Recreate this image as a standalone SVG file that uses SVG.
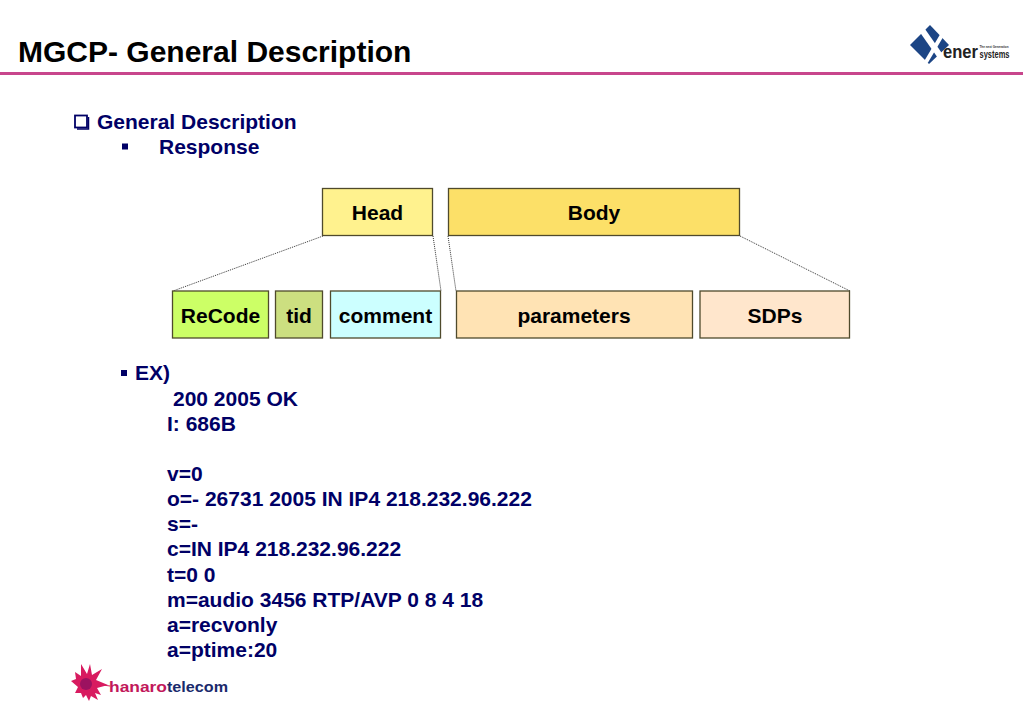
<svg xmlns="http://www.w3.org/2000/svg" width="1023" height="708" viewBox="0 0 1023 708">
<style>
text{font-family:"Liberation Sans",Arial,sans-serif;font-weight:bold}
.t{font-size:21px;fill:#000}
.b{font-size:21px;fill:#000066}
.box{stroke:#4f4a2c;stroke-width:1.3}
.c{stroke:#333;stroke-width:1;stroke-dasharray:1 1;fill:none}
.m{text-anchor:middle}
</style>
<rect width="1023" height="708" fill="#fff"/>
<g id="header">
<text x="18" y="62" font-size="30" fill="#000">MGCP- General Description</text>
<rect x="0" y="72" width="1023" height="3" fill="#c8468c"/>
</g>
<g id="logo-xener">
<path d="M930 25L949 45L929 64L910 45Z" fill="#1c4585"/>
<path d="M922 30L943 60" stroke="#fff" stroke-width="6" fill="none"/>
<path d="M945 30L926 62" stroke="#fff" stroke-width="4" fill="none"/>
<text x="943" y="58" font-size="18" fill="#222" textLength="35" lengthAdjust="spacingAndGlyphs">ener</text>
<text x="979.500" y="48" font-size="3.600" fill="#333" textLength="29" lengthAdjust="spacingAndGlyphs">The next Generation</text>
<text x="979.500" y="58" font-size="10" fill="#222" textLength="30" lengthAdjust="spacingAndGlyphs">systems</text>
</g>
<g id="logo-hanaro">
<path d="M71 681L76 679L75 672L81 676L81 664L87 674L90 664L92 675L102 669L96 680L108 685L97 688L101 695L95 693L98 700L91 696L89 701L86 695L83 698L81 693L75 693L78 687Z" fill="#d81b60"/>
<circle cx="86" cy="684" r="6" fill="#9c1260"/>
<path d="M95 684L110 686" stroke="#d81b60" stroke-width="1" fill="none"/>
<text x="109" y="692" font-size="15" fill="#c2185b" textLength="58" lengthAdjust="spacingAndGlyphs">hanaro</text>
<text x="167" y="692" font-size="15" fill="#1a2a6c" textLength="61" lengthAdjust="spacingAndGlyphs">telecom</text>
</g>
<g id="outline">
<rect x="75" y="115.500" width="12" height="12" fill="none" stroke="#000066" stroke-width="1.800"/>
<path d="M88.500 117V129H77" fill="none" stroke="#000066" stroke-width="1.500"/>
<text class="b" x="97" y="129">General Description</text>
<rect x="122" y="143.500" width="6" height="6" fill="#000066"/>
<text class="b" x="159" y="154">Response</text>
</g>
<g id="connectors">
<path class="c" d="M323 236L173 291"/>
<path class="c" d="M433 236L441 291"/>
<path class="c" d="M448 236L456 291"/>
<path class="c" d="M740 236L850 291"/>
</g>
<g id="head"><rect class="box" x="322.500" y="188.500" width="110" height="47" fill="#fff28e"/><text class="t m" x="377.500" y="220">Head</text></g>
<g id="body"><rect class="box" x="448.500" y="188.500" width="291" height="47" fill="#fce068"/><text class="t m" x="594" y="220">Body</text></g>
<g id="recode"><rect class="box" x="172.500" y="291" width="96" height="47" fill="#ccff66"/><text class="t m" x="220.500" y="323">ReCode</text></g>
<g id="tid"><rect class="box" x="275.500" y="291" width="47" height="47" fill="#ccdf80"/><text class="t m" x="299" y="323">tid</text></g>
<g id="comment"><rect class="box" x="330.500" y="291" width="110" height="47" fill="#ccffff"/><text class="t m" x="385.500" y="323">comment</text></g>
<g id="parameters"><rect class="box" x="456.500" y="291" width="236" height="47" fill="#ffe3b4"/><text class="t m" x="574" y="323">parameters</text></g>
<g id="sdps"><rect class="box" x="700" y="291" width="149.500" height="47" fill="#ffe6cc"/><text class="t m" x="775" y="323">SDPs</text></g>
<g id="example">
<rect x="121" y="370" width="6" height="6" fill="#000066"/>
<text class="b" x="135" y="380">EX)</text>
<text class="b" x="173" y="406">200 2005 OK</text>
<text class="b" x="167" y="431">I: 686B</text>
<text class="b" x="167" y="481">v=0</text>
<text class="b" x="167" y="506">o=- 26731 2005 IN IP4 218.232.96.222</text>
<text class="b" x="167" y="531">s=-</text>
<text class="b" x="167" y="556">c=IN IP4 218.232.96.222</text>
<text class="b" x="167" y="582">t=0 0</text>
<text class="b" x="167" y="607">m=audio 3456 RTP/AVP 0 8 4 18</text>
<text class="b" x="167" y="632">a=recvonly</text>
<text class="b" x="167" y="657">a=ptime:20</text>
</g>
</svg>
